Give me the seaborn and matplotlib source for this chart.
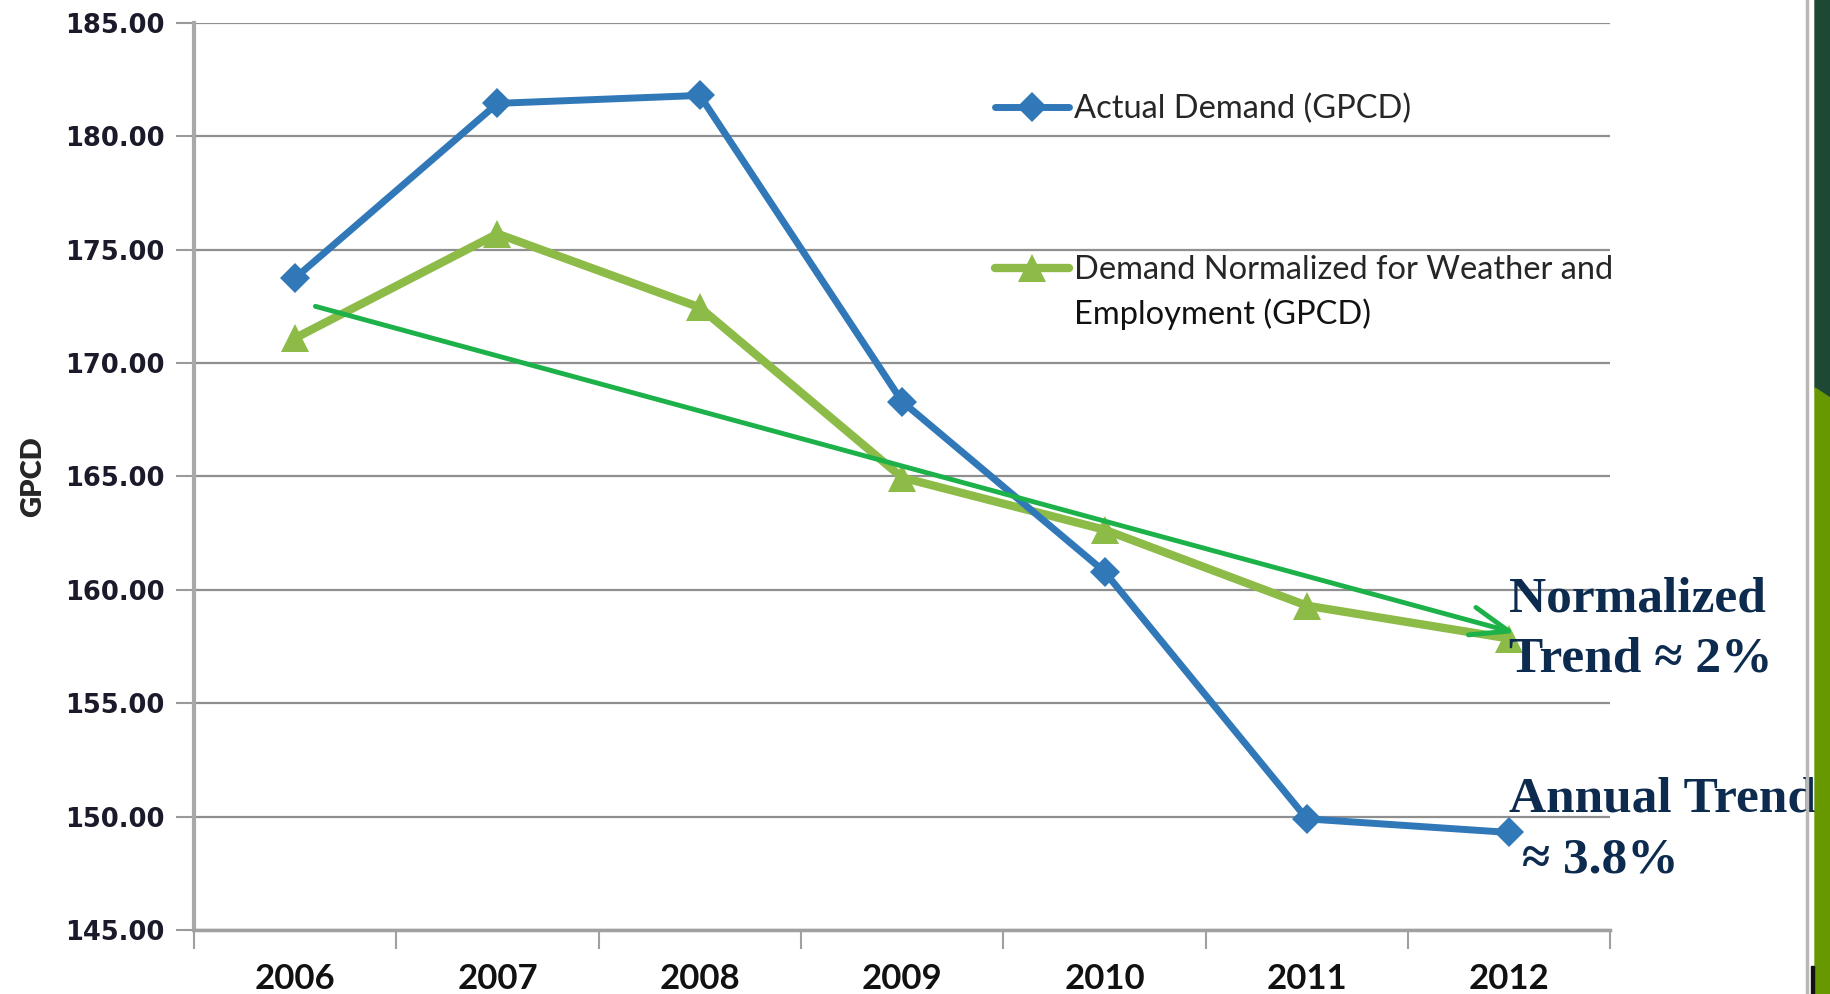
import matplotlib
matplotlib.use("Agg")
import matplotlib.pyplot as plt
from matplotlib.patches import Polygon, Rectangle
from matplotlib.lines import Line2D
import seaborn as sns
import pandas as pd

# values
years = ["2006", "2007", "2008", "2009", "2010", "2011", "2012"]
actual_demand = [173.75, 181.45, 181.8, 168.3, 160.8, 149.9, 149.3]
normalized_demand = [171.1, 175.7, 172.45, 164.95, 162.65, 159.3, 157.85]
# hand-drawn trend arrow (category position, GPCD)
trend_start = (0.1, 172.5)
trend_end = (6.03, 158.1)
y_ticks = [145, 150, 155, 160, 165, 170, 175, 180, 185]

label_actual = "Actual Demand (GPCD)"
label_norm = ["Demand Normalized for Weather and", "Employment (GPCD)"]

blue = "#3178b8"
green = "#8dbb48"
arrow_green = "#1db14a"
navy = "#0d2b4e"

df = pd.DataFrame({"Year": years, "Actual": actual_demand, "Normalized": normalized_demand})

sns.set_style("white")
plt.rcParams["font.family"] = ["DejaVu Sans"]

fig = plt.figure(figsize=(18.3, 9.94), dpi=100)
ax = fig.add_axes([0.106, 0.0644, 0.774, 0.9126])

sns.lineplot(data=df, x="Year", y="Actual", ax=ax, color=blue, lw=5, marker="D",
             markersize=15, markeredgewidth=0, label=label_actual, zorder=4)
sns.lineplot(data=df, x="Year", y="Normalized", ax=ax, color=green, lw=6, marker="^",
             markersize=20, markeredgewidth=0, label=label_norm[0], zorder=3)

ax.annotate("", xy=trend_end, xytext=trend_start,
            arrowprops=dict(arrowstyle="->,head_length=0.85,head_width=0.32", color=arrow_green,
                            lw=3.5, mutation_scale=32, shrinkA=0, shrinkB=0),
            zorder=5)

ax.set_xlim(-0.5, 6.5)
ax.set_ylim(145, 185)
ax.set_yticks(y_ticks)
ax.set_yticklabels([f"{v:.2f}" for v in y_ticks])
ax.yaxis.grid(True, color="#8f8f8f", lw=1.6)
ax.set_axisbelow(True)

ax.set_xlabel("")
ax.set_ylabel("GPCD", labelpad=14)
ax.yaxis.label.set_family("Lato")
ax.yaxis.label.set_fontsize(21)
ax.yaxis.label.set_fontweight("heavy")

for s in ["top", "right"]:
    ax.spines[s].set_visible(False)
ax.spines["left"].set_color("#a8a8a8")
ax.spines["left"].set_linewidth(3)
ax.spines["bottom"].set_color("#a0a0a0")
ax.spines["bottom"].set_linewidth(2.5)

ax.tick_params(axis="y", left=True, direction="out", length=13, width=1.5, color="#9a9a9a",
               labelsize=18.5, pad=8, labelcolor="#1a1a2a")
for t in ax.get_yticklabels():
    t.set_fontweight("bold")
ax.set_xticks([i + 0.5 for i in range(-1, 7)], minor=True)
ax.tick_params(axis="x", which="minor", bottom=True, direction="out", length=14, width=1.5,
               color="#a0a0a0")
ax.tick_params(axis="x", which="major", bottom=True, length=0, pad=24, labelsize=25,
               labelcolor="#111111")
for t in ax.get_xticklabels():
    t.set_family("Lato")
    t.set_fontweight("bold")

leg = ax.legend(loc="upper left", bbox_to_anchor=(0.545, 0.954), frameon=False,
                handlelength=2.25, handletextpad=0.15, labelspacing=4.0,
                prop={"family": "Lato", "size": 23.5})

# second line of the green label, placed under the first line of the legend entry
fig.canvas.draw()
first_line = leg.get_texts()[1]
bb = first_line.get_window_extent()
ax.annotate(label_norm[1], xy=(bb.x0, bb.y0), xycoords="figure pixels",
            xytext=(0, -45), textcoords="offset pixels", va="bottom", ha="left",
            family="Lato", fontsize=23.5, color="#111111")

ax.text(6.0, 160.6, "Normalized\nTrend ≈ 2%", family="Liberation Serif", fontweight="bold",
        fontsize=37, color=navy, va="top", ha="left", linespacing=1.42, zorder=6)
ax.text(6.0, 151.75, "Annual Trend\n ≈ 3.8%", family="Liberation Serif", fontweight="bold",
        fontsize=37, color=navy, va="top", ha="left", linespacing=1.42, zorder=6)

# slide frame on the right edge
fig.add_artist(Line2D([1807 / 1830, 1807 / 1830], [0, 1], color="#b8b8b8", lw=2.5))
fig.add_artist(Polygon([[1815 / 1830, 1], [1, 1], [1, 1 - 398 / 994], [1815 / 1830, 1 - 388 / 994]],
                       closed=True, color="#1d4833", zorder=10))
fig.add_artist(Polygon([[1815 / 1830, 1 - 388 / 994], [1, 1 - 398 / 994], [1, 0], [1815 / 1830, 0]],
                       closed=True, color="#679800", zorder=10))
fig.add_artist(Rectangle((1811 / 1830, 0), 3 / 1830, 28 / 994, color="#111111", zorder=10))

fig.savefig("out.png", dpi=100)
plt.close(fig)
